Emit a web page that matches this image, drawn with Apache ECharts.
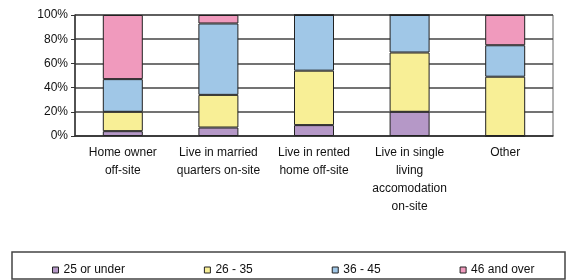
<!DOCTYPE html>
<html>
<head>
<meta charset="utf-8">
<script src="https://cdn.jsdelivr.net/npm/echarts@6/dist/echarts.min.js"></script>
<style>
  html, body { margin: 0; padding: 0; background: #fff; }
  #chart { width: 570px; height: 280px; }
</style>
</head>
<body>
<div id="chart"></div>
<script>
const categories = [
  'Home owner\noff-site',
  'Live in married\nquarters on-site',
  'Live in rented\nhome off-site',
  'Live in single\nliving\naccomodation\non-site',
  'Other'
]
const ageGroups = ['25 or under', '26 - 35', '36 - 45', '46 and over']
const under25 = [4, 7, 9, 20, 0]
const age26to35 = [16, 27, 45, 49, 49]
const age36to45 = [27, 59, 46, 31, 26]
const over46 = [53, 7, 0, 0, 25]
const yTicks = [0, 20, 40, 60, 80, 100]

const colors = ['#b598c7', '#f8ef96', '#a0c7e7', '#f09abd']
const values = [under25, age26to35, age36to45, over46]

const chart = echarts.init(document.getElementById('chart'))
chart.setOption({
  animation: false,
  textStyle: { fontFamily: 'Liberation Sans, Arial, sans-serif' },
  grid: {
    left: 75, right: 17, top: 15, bottom: 144,
    show: true, borderColor: '#666', borderWidth: 1
  },
  legend: {
    data: ageGroups,
    left: 47, top: 259,
    itemWidth: 6, itemHeight: 6, itemGap: 79,
    icon: 'rect',
    itemStyle: { borderColor: '#222', borderWidth: 1 },
    textStyle: { fontSize: 12, color: '#111' }
  },
  graphic: [{
    type: 'rect',
    shape: { x: 12, y: 252, width: 553, height: 27 },
    style: { fill: 'none', stroke: '#444', lineWidth: 1.5 },
    silent: true
  }],
  xAxis: {
    type: 'category',
    data: categories,
    axisLine: { lineStyle: { color: '#333', width: 1.5 } },
    axisTick: { length: 4, lineStyle: { color: '#333' } },
    axisLabel: { fontSize: 12, color: '#111', lineHeight: 18, margin: 8, interval: 0 }
  },
  yAxis: {
    type: 'value',
    min: 0, max: 100, interval: 20,
    axisLine: { show: true, lineStyle: { color: '#333', width: 1.5 } },
    axisTick: { show: true, length: 4, lineStyle: { color: '#333' } },
    splitLine: { lineStyle: { color: '#444', width: 1.5 } },
    axisLabel: {
      fontSize: 12, color: '#111', margin: 7,
      formatter: v => yTicks.includes(v) ? v + '%' : ''
    }
  },
  series: ageGroups.map((name, i) => ({
    name: name,
    type: 'bar',
    stack: 'total',
    barWidth: 40,
    data: values[i],
    itemStyle: { color: colors[i], borderColor: '#222', borderWidth: 1 }
  }))
})
</script>
</body>
</html>
